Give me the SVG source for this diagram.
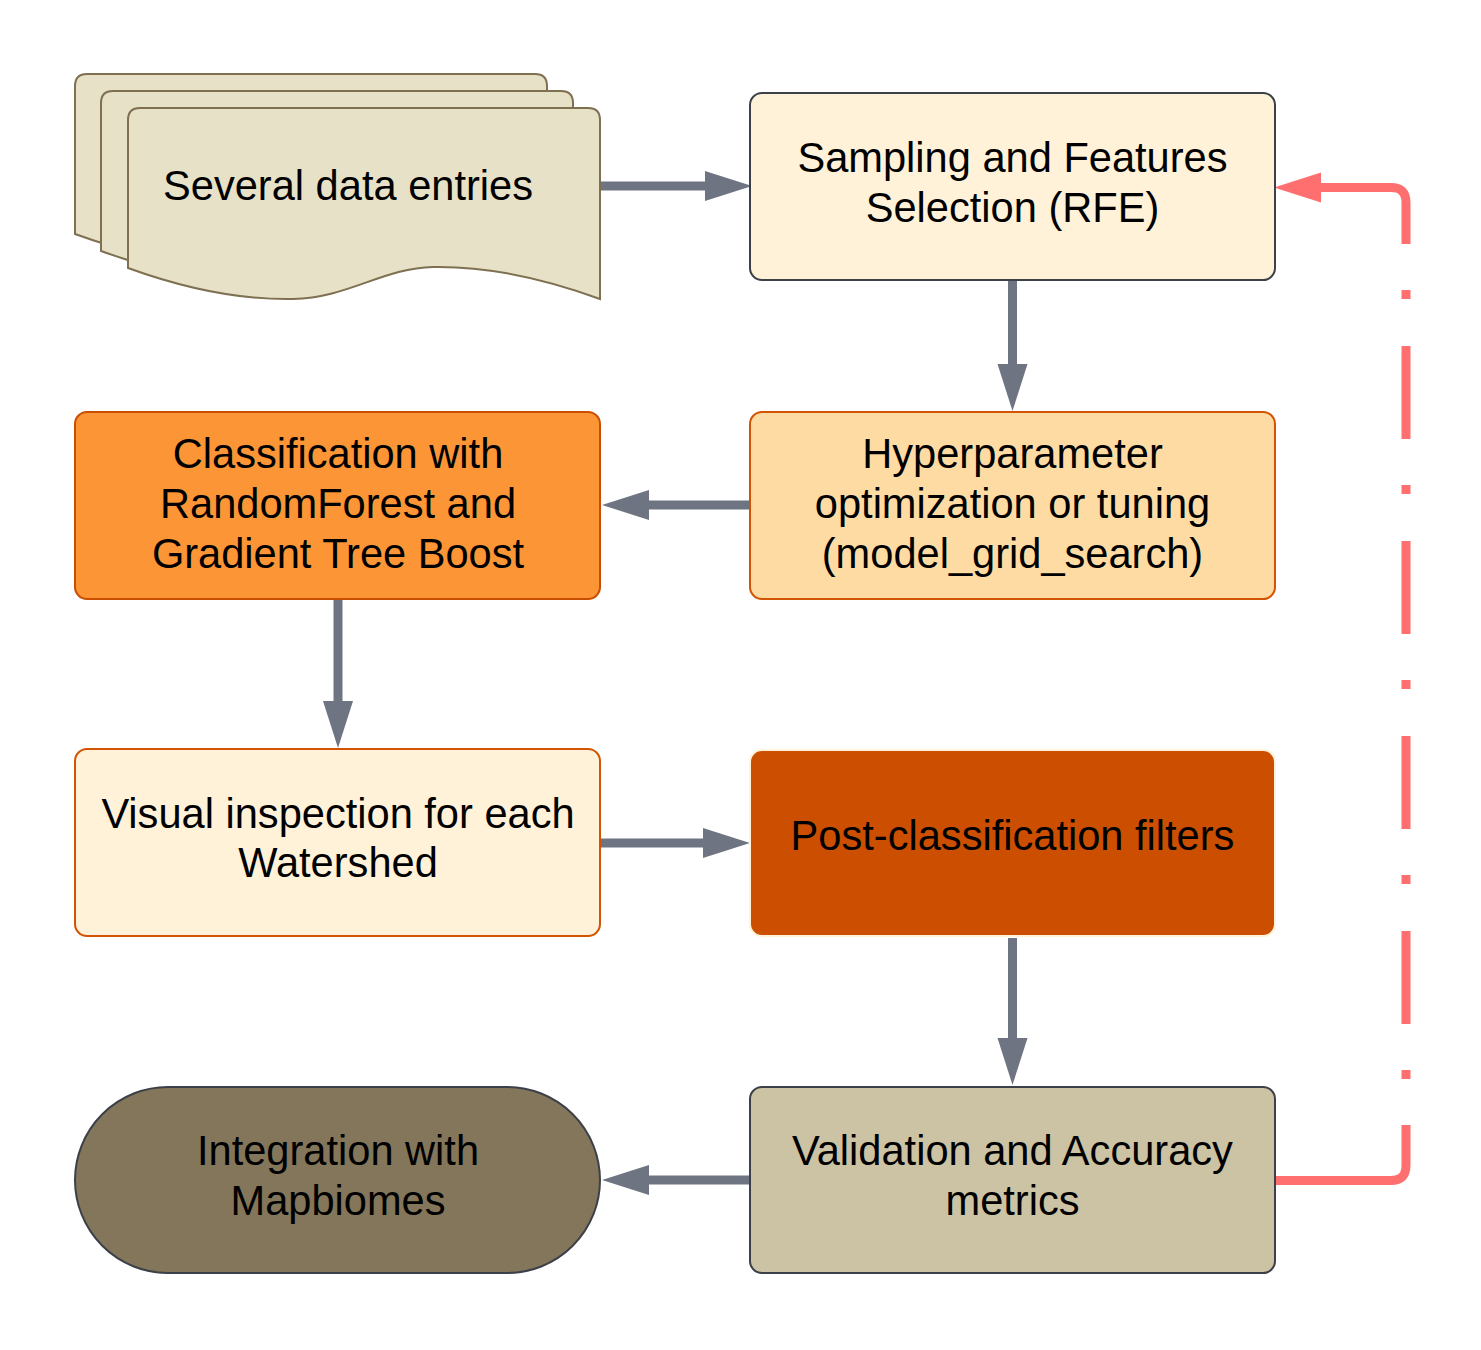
<svg xmlns="http://www.w3.org/2000/svg" width="1481" height="1350" viewBox="0 0 1481 1350">
<style>
text{font-family:"Liberation Sans",Arial,sans-serif;font-size:41.6px;fill:#000;text-anchor:middle}
.doc{fill:#e7e1c7;stroke:#7e7050;stroke-width:2}
.box{stroke-width:2}
.conn{stroke:#6e7481;stroke-width:9;fill:none}
.red{stroke:#ff6f6f;stroke-width:9;fill:none}
</style>
<defs>
<path id="docshape" d="M0,12 Q0,0 12,0 H460 Q472,0 472,12 V191 C420,172 360,158 305,159 C255,160 220,190 165,191 C110,192 55,180 0,160 Z"/>
<marker id="ah" markerUnits="userSpaceOnUse" markerWidth="48" markerHeight="32" refX="1" refY="16" orient="auto">
<path d="M0,1 L47,16 L0,31 Z" fill="#6e7481"/>
</marker>
<marker id="rh" markerUnits="userSpaceOnUse" markerWidth="48" markerHeight="32" refX="1" refY="16" orient="auto">
<path d="M0,1 L47,16 L0,31 Z" fill="#ff6f6f"/>
</marker>
</defs>
<rect width="1481" height="1350" fill="#fff"/>
<g id="connectors">
<path class="conn" d="M600,186 H706" marker-end="url(#ah)"/>
<path class="conn" d="M1012.5,280 V365" marker-end="url(#ah)"/>
<path class="conn" d="M750,505 H648" marker-end="url(#ah)"/>
<path class="conn" d="M338,599 V702" marker-end="url(#ah)"/>
<path class="conn" d="M600,843 H704" marker-end="url(#ah)"/>
<path class="conn" d="M1012.5,938 V1039" marker-end="url(#ah)"/>
<path class="conn" d="M750,1180 H648" marker-end="url(#ah)"/>
<path class="red" d="M1275,1180.5 H1391 Q1406,1180.5 1406,1165.5 V1125"/>
<path class="red" d="M1406,1079 V290" stroke-dasharray="9 46 93 47"/>
<path class="red" d="M1406,244 V202.5 Q1406,187.5 1391,187.5 H1320" marker-end="url(#rh)"/>
</g>
<g id="node-data">
<use href="#docshape" class="doc" x="75" y="74"/>
<use href="#docshape" class="doc" x="101" y="91"/>
<use href="#docshape" class="doc" x="128" y="108"/>
<text x="348" y="200">Several data entries</text>
</g>
<g id="node-sampling">
<rect class="box" x="750" y="93" width="525" height="187" rx="12" fill="#fff2d8" stroke="#3b4049"/>
<text x="1012.5" y="172">Sampling and Features</text>
<text x="1012.5" y="222">Selection (RFE)</text>
</g>
<g id="node-hyper">
<rect class="box" x="750" y="412" width="525" height="187" rx="12" fill="#ffdba4" stroke="#d35400"/>
<text x="1012.5" y="468">Hyperparameter</text>
<text x="1012.5" y="518">optimization or tuning</text>
<text x="1012.5" y="568">(model_grid_search)</text>
</g>
<g id="node-class">
<rect class="box" x="75" y="412" width="525" height="187" rx="12" fill="#fb9535" stroke="#c94f00"/>
<text x="338" y="468">Classification with</text>
<text x="338" y="518">RandomForest and</text>
<text x="338" y="568">Gradient Tree Boost</text>
</g>
<g id="node-visual">
<rect class="box" x="75" y="749" width="525" height="187" rx="12" fill="#fff2d8" stroke="#d35400"/>
<text x="338" y="828">Visual inspection for each</text>
<text x="338" y="877">Watershed</text>
</g>
<g id="node-post">
<rect class="box" x="750" y="750" width="525" height="186" rx="12" fill="#cc4e00" stroke="#fff2d8"/>
<text x="1012.5" y="850">Post-classification filters</text>
</g>
<g id="node-valid">
<rect class="box" x="750" y="1087" width="525" height="186" rx="12" fill="#ccc2a4" stroke="#3b4049"/>
<text x="1012.5" y="1165">Validation and Accuracy</text>
<text x="1012.5" y="1215">metrics</text>
</g>
<g id="node-integ">
<rect class="box" x="75" y="1087" width="525" height="186" rx="93" fill="#83765a" stroke="#3b4049"/>
<text x="338" y="1165">Integration with</text>
<text x="338" y="1215">Mapbiomes</text>
</g>
</svg>
